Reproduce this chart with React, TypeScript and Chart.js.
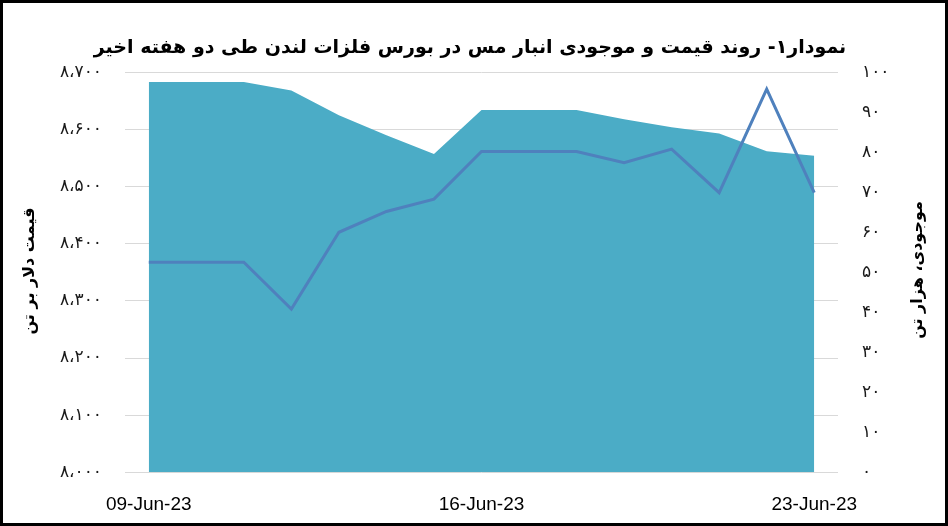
import { useEffect, useRef } from "react";
import { Chart, registerables, ChartConfiguration, Plugin } from "chart.js";

Chart.register(...registerables);

// روزها (تعطیلات آخر هفته با مقدار روز قبل)
const dates: string[] = [
  "09-Jun-23", "10-Jun-23", "11-Jun-23", "12-Jun-23", "13-Jun-23",
  "14-Jun-23", "15-Jun-23", "16-Jun-23", "17-Jun-23", "18-Jun-23",
  "19-Jun-23", "20-Jun-23", "21-Jun-23", "22-Jun-23", "23-Jun-23",
];
const shownDates: string[] = ["09-Jun-23", "16-Jun-23", "23-Jun-23"];

// قیمت مس، دلار بر تن (محور چپ)
const priceValues: number[] = [
  8683, 8683, 8683, 8668, 8625, 8590, 8557, 8634, 8634, 8634, 8618, 8604,
  8593, 8562, 8554,
];
// موجودی انبار، هزار تن (محور راست)
const stockValues: number[] = [
  52.5, 52.5, 52.5, 40.8, 60.0, 65.2, 68.3, 80.2, 80.2, 80.2, 77.4, 80.8,
  69.9, 95.8, 69.9,
];

const chartTitle =
  "نمودار۱- روند قیمت و موجودی انبار مس در بورس فلزات لندن طی دو هفته اخیر";
const leftTitle = "قیمت دلار بر تن";
const rightTitle = "موجودی، هزار تن";

const persianDigits = "۰۱۲۳۴۵۶۷۸۹";
function toPersian(value: number): string {
  return String(value)
    .replace(/\B(?=(\d{3})+(?!\d))/g, "،")
    .replace(/\d/g, (d) => persianDigits[Number(d)]);
}

const persianFont = '"DejaVu Sans", sans-serif';

const titlesPlugin: Plugin<"line"> = {
  id: "persianTitles",
  afterDraw(chart) {
    const ctx = chart.ctx;
    ctx.save();
    ctx.fillStyle = "#000000";
    ctx.direction = "rtl";
    ctx.textAlign = "center";
    ctx.textBaseline = "alphabetic";
    ctx.font = "bold 19px " + persianFont;
    ctx.fillText(chartTitle, 467, 50);

    ctx.font = "bold 16px " + persianFont;
    ctx.textBaseline = "middle";
    ctx.save();
    ctx.translate(27, 268);
    ctx.rotate(-Math.PI / 2);
    ctx.fillText(leftTitle, 0, 0);
    ctx.restore();
    ctx.save();
    ctx.translate(915, 267);
    ctx.rotate(-Math.PI / 2);
    ctx.fillText(rightTitle, 0, 0);
    ctx.restore();
    ctx.restore();
  },
};

function CopperChart() {
  const canvasRef = useRef<HTMLCanvasElement | null>(null);

  useEffect(() => {
    if (!canvasRef.current) return;
    const config: ChartConfiguration<"line"> = {
      type: "line",
      data: {
        labels: dates,
        datasets: [
          {
            label: "موجودی",
            data: stockValues,
            yAxisID: "y1",
            borderColor: "#4F81BD",
            borderWidth: 3,
            pointRadius: 0,
            tension: 0,
            fill: false,
            order: 0,
          },
          {
            label: "قیمت",
            data: priceValues,
            yAxisID: "y",
            backgroundColor: "#4BACC6",
            borderColor: "#4BACC6",
            borderWidth: 0,
            pointRadius: 0,
            tension: 0,
            fill: "start",
            order: 1,
          },
        ],
      },
      options: {
        responsive: false,
        animation: false,
        layout: { padding: { top: 69.3, left: 0, right: 0, bottom: 0 } },
        plugins: {
          legend: { display: false },
          tooltip: { enabled: false },
          title: { display: false },
        },
        scales: {
          x: {
            type: "category",
            offset: true,
            grid: { display: false, drawTicks: false },
            border: { display: false },
            ticks: {
              autoSkip: false,
              maxRotation: 0,
              padding: 21,
              color: "#000000",
              font: { family: '"Liberation Sans", Arial, sans-serif', size: 19 },
              callback: (_v, i) =>
                shownDates.includes(dates[i]) ? dates[i] : null,
            },
            afterFit: (s) => {
              s.height = 50.7;
            },
          },
          y: {
            position: "left",
            min: 8000,
            max: 8700,
            grid: { color: "#D9D9D9", lineWidth: 1, drawTicks: false },
            border: { display: false },
            ticks: {
              stepSize: 100,
              padding: 23,
              color: "#1a1a1a",
              font: { family: persianFont, size: 17 },
              callback: (v) => toPersian(Number(v)),
            },
            afterFit: (s) => {
              s.width = 122;
            },
          },
          y1: {
            position: "right",
            min: 0,
            max: 100,
            grid: { display: false, drawTicks: false },
            border: { display: false },
            ticks: {
              stepSize: 10,
              padding: 24,
              color: "#1a1a1a",
              font: { family: persianFont, size: 17 },
              callback: (v) => toPersian(Number(v)),
            },
            afterFit: (s) => {
              s.width = 107;
            },
          },
        },
      },
      plugins: [titlesPlugin],
    };
    const chart = new Chart(canvasRef.current, config);
    return () => {
      chart.destroy();
    };
  }, []);

  return (
    <div
      style={{
        position: "absolute",
        left: 0,
        top: 0,
        width: 948,
        height: 526,
        boxSizing: "border-box",
        border: "3px solid #000000",
        background: "#ffffff",
      }}
    >
      <canvas ref={canvasRef} width={942} height={520} style={{ display: "block" }} />
    </div>
  );
}

export default function App() {
  return <CopperChart />;
}
